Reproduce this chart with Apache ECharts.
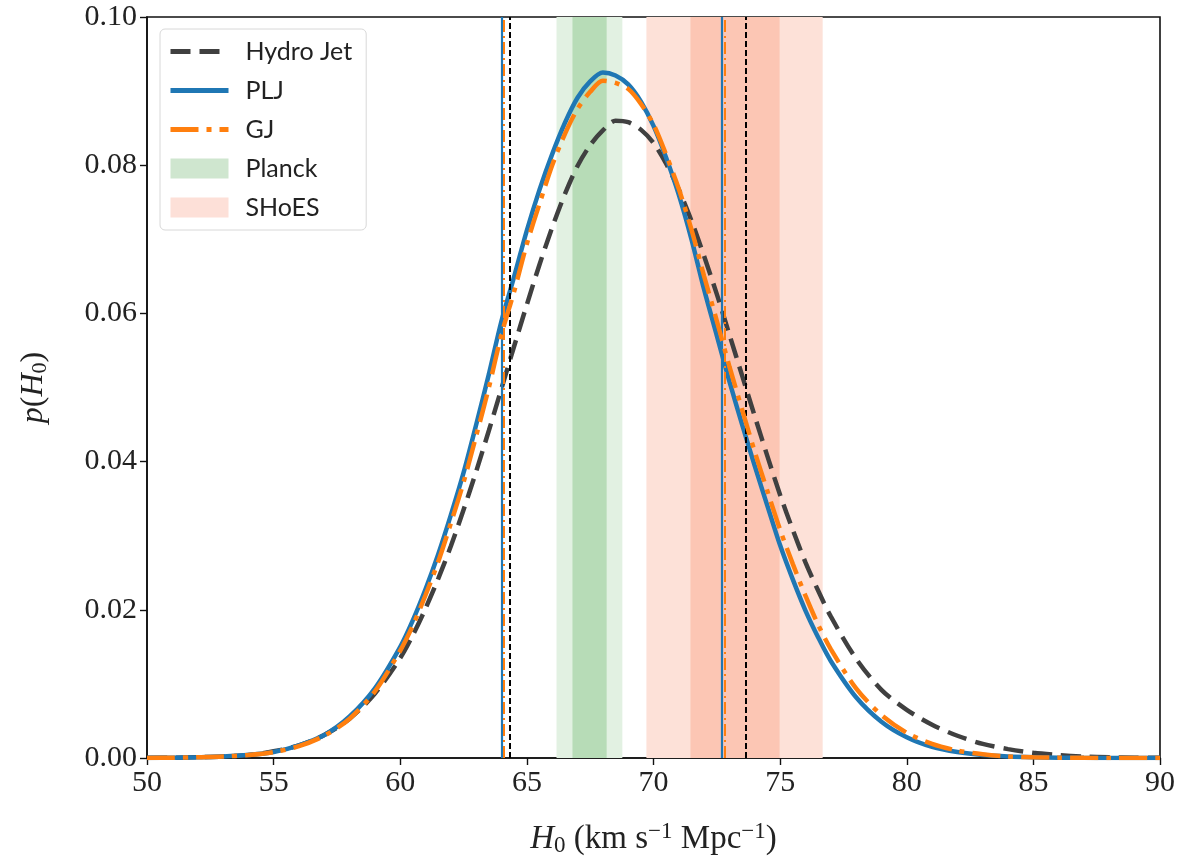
<!DOCTYPE html>
<html>
<head>
<meta charset="utf-8">
<script src="https://cdn.jsdelivr.net/npm/echarts@6/dist/echarts.min.js"></script>
<style>
html,body{margin:0;padding:0;background:#fff;}
#chart{width:1182px;height:863px;}
</style>
</head>
<body>
<div id="chart"></div>
<script>
// ---- data ----
const H0 = [50,51,52,53,54,55,56,57,58,59,
  60,60.5,61,61.5,62,62.5,63,63.5,64,64.5,65,65.5,66,66.5,67,67.5,68,68.5,69,69.5,
  70,70.5,71,71.5,72,72.5,73,73.5,74,74.5,75,75.5,76,76.5,77,
  78,79,80,81,82,83,84,85,86,87,88,89,90];
const hydroJet = [0.00002,0.00004,0.0001,0.0002,0.0004,0.0009,0.0017,0.0031,0.0053,0.0087,
  0.0135,0.0166,0.0202,0.0242,0.0286,0.0335,0.0387,0.0442,0.0499,0.0556,0.0612,0.0666,0.0716,0.0761,0.0799,0.0827,0.0847,0.0860,0.0858,0.0848,
  0.0830,0.0802,0.0767,0.0725,0.0677,0.0626,0.0571,0.0516,0.0461,0.0407,0.0355,0.0308,0.0264,0.0226,0.0191,
  0.0134,0.0092,0.0065,0.0045,0.0030,0.0019,0.0012,0.0007,0.0004,0.0002,0.0001,0.00005,0.00003];
const plj = [0.00001,0.00003,0.0001,0.0002,0.0004,0.0008,0.0017,0.0031,0.0056,0.0094,
  0.0150,0.0186,0.0228,0.0275,0.0328,0.0385,0.0450,0.0518,0.0590,0.0650,0.0712,0.0767,0.0815,0.0857,0.0891,0.0913,0.0925,0.0921,0.0909,0.0886,
  0.0853,0.0810,0.0760,0.0700,0.0632,0.0570,0.0508,0.0450,0.0394,0.0340,0.0287,0.0241,0.0199,0.0163,0.0131,
  0.0082,0.0049,0.0028,0.0015,0.0008,0.0004,0.0002,0.0001,0.00005,0.00002,0.00001,0,0];
const gj = [0.00001,0.00003,0.0001,0.0002,0.0004,0.0008,0.0016,0.0030,0.0053,0.0090,
  0.0145,0.0179,0.0220,0.0265,0.0317,0.0372,0.0435,0.0500,0.0572,0.0630,0.0694,0.0748,0.0800,0.0842,0.0876,0.0899,0.0914,0.0911,0.0903,0.0883,
  0.0855,0.0814,0.0768,0.0713,0.0650,0.0590,0.0528,0.0470,0.0413,0.0360,0.0308,0.0262,0.0219,0.0180,0.0147,
  0.0094,0.0058,0.0034,0.0019,0.0010,0.0005,0.0002,0.0001,0.00005,0.00002,0.00001,0,0];
// credible-interval vertical lines
const hydroLines = [64.33, 73.64];
const pljLines = [63.99, 72.68];
const gjLines = [64.10, 72.83];
// bands
const planck2 = [66.17, 68.77];
const planck1 = [66.80, 68.15];
const shoes2 = [69.72, 76.68];
const shoes1 = [71.46, 74.98];

const C_HYDRO = '#404040', C_PLJ = '#1f77b4', C_GJ = '#ff7f0e';
const C_PL_LIGHT = '#e2f1e2', C_PL_DARK = '#b7dcb7';
const C_SH_LIGHT = '#fde1d8', C_SH_DARK = '#fcc6b4';
const DASH_HYDRO = [20, 9], DASH_GJ = [28, 8, 5, 8];

const pair = (xs, ys) => xs.map((x, i) => [x, ys[i]]);
const vline = (arr, style) => ({
  silent: true, symbol: ['none','none'], label: {show:false},
  lineStyle: style,
  emphasis: {disabled: true},
  data: arr.map(v => ({xAxis: v}))
});
const noSym = {color:'rgba(0,0,0,0)', borderWidth:0, opacity:0};

const chart = echarts.init(document.getElementById('chart'), null, {renderer:'canvas'});
const serif = 'Liberation Serif';
const option = {
  animation: false,
  backgroundColor: '#fff',
  grid: {left:147, right:22, top:17, bottom:105, show:true, borderColor:'#111', borderWidth:1.6, backgroundColor:'transparent'},
  legend: {
    left: 160, top: 29, orient: 'vertical',
    padding: [10, 14, 10, 8], itemGap: 14,
    itemWidth: 58, itemHeight: 20,
    backgroundColor: 'rgba(255,255,255,0.8)', borderColor: '#d8d8d8', borderWidth: 1, borderRadius: 5,
    textStyle: {fontFamily: 'Lato', fontSize: 25, color: '#222', padding:[0,0,0,12]},
    data: [
      {name:'Hydro Jet', itemStyle:noSym, lineStyle:{color:C_HYDRO, width:5, type:DASH_HYDRO}},
      {name:'PLJ', itemStyle:noSym, lineStyle:{color:C_PLJ, width:5, type:'solid'}},
      {name:'GJ', itemStyle:noSym, lineStyle:{color:C_GJ, width:5, type:DASH_GJ}},
      {name:'Planck', icon:'rect', itemStyle:{color:'#cfe6cf'}},
      {name:'SHoES', icon:'rect', itemStyle:{color:'#fde0d8'}}
    ]
  },
  xAxis: {
    type:'value', min:50, max:90, interval:5,
    axisLine:{show:true, onZero:false, lineStyle:{color:'#111', width:1.6}},
    axisTick:{show:true, length:7, inside:false, lineStyle:{color:'#111', width:1.4}},
    axisLabel:{fontFamily:serif, fontSize:30, color:'#222', margin:10},
    splitLine:{show:false},
    name: '{i|H}{sub|0} (km s{sup|−1} Mpc{sup|−1})',
    nameLocation:'middle', nameGap:62,
    nameTextStyle:{fontFamily:serif, fontSize:33, color:'#222',
      rich:{
        i:{fontFamily:serif, fontStyle:'italic', fontSize:33, color:'#222'},
        sub:{fontFamily:serif, fontSize:23, color:'#222', padding:[13,0,0,0]},
        sup:{fontFamily:serif, fontSize:23, color:'#222', padding:[0,0,15,0]}
      }}
  },
  yAxis: {
    type:'value', min:0, max:0.1, interval:0.02,
    axisLine:{show:true, lineStyle:{color:'#111', width:1.6}},
    axisTick:{show:true, length:7, lineStyle:{color:'#111', width:1.4}},
    axisLabel:{fontFamily:serif, fontSize:30, color:'#222', margin:10, formatter: v => v.toFixed(2)},
    splitLine:{show:false},
    name: '{i|p}({i|H}{sub|0})',
    nameLocation:'middle', nameGap:96, nameRotate:90,
    nameTextStyle:{fontFamily:serif, fontSize:32, color:'#222',
      rich:{
        i:{fontFamily:serif, fontStyle:'italic', fontSize:32, color:'#222'},
        sub:{fontFamily:serif, fontSize:22, color:'#222', padding:[13,0,0,0]}
      }}
  },
  series: [
    {
      name:'Planck', type:'line', data:[], z:1, color:'#cfe6cf',
      markArea:{silent:true, data:[
        [{xAxis:planck2[0], itemStyle:{color:C_PL_LIGHT}}, {xAxis:planck2[1]}],
        [{xAxis:planck1[0], itemStyle:{color:C_PL_DARK}}, {xAxis:planck1[1]}]
      ]}
    },
    {
      name:'SHoES', type:'line', data:[], z:1, color:'#fde0d8',
      markArea:{silent:true, data:[
        [{xAxis:shoes2[0], itemStyle:{color:C_SH_LIGHT}}, {xAxis:shoes2[1]}],
        [{xAxis:shoes1[0], itemStyle:{color:C_SH_DARK}}, {xAxis:shoes1[1]}]
      ]}
    },
    {
      name:'Hydro Jet', type:'line', data: pair(H0, hydroJet), smooth:0.3, symbol:'none', z:3,
      color: C_HYDRO,
      lineStyle:{color:C_HYDRO, width:4.5, type:DASH_HYDRO},
      markLine: vline(hydroLines, {color:'#000', width:2, type:[6,3]})
    },
    {
      name:'PLJ', type:'line', data: pair(H0, plj), smooth:0.3, symbol:'none', z:4,
      color: C_PLJ,
      lineStyle:{color:C_PLJ, width:4.5, type:'solid'},
      markLine: vline(pljLines, {color:C_PLJ, width:2.2, type:'solid'})
    },
    {
      name:'GJ', type:'line', data: pair(H0, gj), smooth:0.3, symbol:'none', z:5,
      color: C_GJ,
      lineStyle:{color:C_GJ, width:4.5, type:DASH_GJ},
      markLine: vline(gjLines, {color:C_GJ, width:2, type:[12,4,2,4]})
    }
  ]
};
chart.setOption(option);
</script>
</body>
</html>
